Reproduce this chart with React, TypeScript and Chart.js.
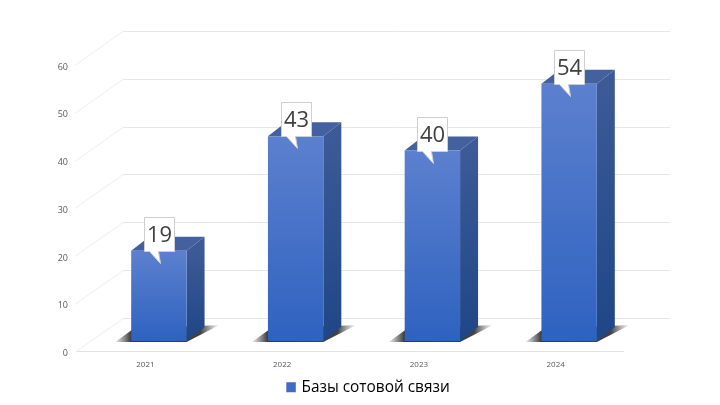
import React, { useEffect, useRef } from "react";
import { Chart, registerables } from "chart.js";

Chart.register(...registerables);

const categories = ["2021", "2022", "2023", "2024"];
const seriesName = "Базы сотовой связи";
const seriesValues = [19, 43, 40, 54];
const FONT = '"Open Sans", sans-serif';

// 3D projection offsets
const WALL_DX = 46, WALL_DY = -35;
const BAR_DX = 13.5, BAR_DY = -10;
const SIDE_DX = 18, SIDE_DY = -14;

const depthPlugin = {
  id: "depth",
  afterUpdate(chart: any) {
    chart.legend.left += 114;
  },
  beforeDatasetsDraw(chart: any) {
    const { ctx, chartArea: a, scales } = chart;
    const y = scales.y;
    ctx.save();
    ctx.lineWidth = 1;
    y.ticks.forEach((t: any) => {
      const p = Math.round(y.getPixelForValue(t.value)) + 0.5;
      const bp = Math.round(p + WALL_DY) + 0.5;
      ctx.strokeStyle = "#eeeeee";
      ctx.beginPath();
      ctx.moveTo(a.left - 2, p);
      ctx.lineTo(a.left + WALL_DX, bp);
      ctx.stroke();
      ctx.strokeStyle = "#e6e6e6";
      ctx.beginPath();
      ctx.moveTo(a.left + WALL_DX, bp);
      ctx.lineTo(a.right + WALL_DX, bp);
      ctx.stroke();
    });
    chart.getDatasetMeta(0).data.forEach((el: any) => {
      const l = el.x - el.width / 2 + BAR_DX;
      const r = el.x + el.width / 2 + BAR_DX;
      const top = el.y + BAR_DY;
      const b = el.base + BAR_DY;
      // ground shadow
      const sg = ctx.createLinearGradient(l - 16, 0, r + 33, 0);
      const w = r + 33 - (l - 16);
      sg.addColorStop(0, "rgba(70,70,70,0.1)");
      sg.addColorStop(16 / w, "rgba(45,45,45,0.95)");
      sg.addColorStop((r + 14 - (l - 16)) / w, "rgba(45,45,45,0.9)");
      sg.addColorStop(1, "rgba(90,90,90,0)");
      ctx.fillStyle = sg;
      ctx.beginPath();
      ctx.moveTo(l - 16, b + 1);
      ctx.lineTo(r, b + 1);
      ctx.lineTo(r + 33, b - 16);
      ctx.lineTo(l + 2, b - 12);
      ctx.closePath();
      ctx.fill();
      // side face
      const side = ctx.createLinearGradient(0, top, 0, b);
      side.addColorStop(0, "#3c5a96");
      side.addColorStop(1, "#1f4687");
      ctx.fillStyle = side;
      ctx.beginPath();
      ctx.moveTo(r, top);
      ctx.lineTo(r + SIDE_DX, top + SIDE_DY);
      ctx.lineTo(r + SIDE_DX, b + SIDE_DY);
      ctx.lineTo(r, b);
      ctx.closePath();
      ctx.fill();
      // top face
      ctx.fillStyle = "#43609f";
      ctx.beginPath();
      ctx.moveTo(l, top);
      ctx.lineTo(r, top);
      ctx.lineTo(r + SIDE_DX, top + SIDE_DY);
      ctx.lineTo(l + SIDE_DX, top + SIDE_DY);
      ctx.closePath();
      ctx.fill();
    });
    ctx.restore();
    ctx.save();
    ctx.translate(BAR_DX, BAR_DY);
  },
  afterDatasetsDraw(chart: any) {
    const { ctx } = chart;
    ctx.restore();
    const vals = chart.data.datasets[0].data;
    chart.getDatasetMeta(0).data.forEach((el: any, i: number) => {
      const cx = el.x + BAR_DX;
      const bottom = Math.round(el.y + BAR_DY) + 0.5;
      const bw = 30, bh = 34;
      const left = Math.round(cx - bw / 2) + 0.5;
      ctx.save();
      ctx.beginPath();
      ctx.moveTo(left, bottom - bh);
      ctx.lineTo(left + bw, bottom - bh);
      ctx.lineTo(left + bw, bottom);
      ctx.lineTo(left + 14, bottom);
      ctx.lineTo(left + 16, bottom + 12);
      ctx.lineTo(left + 5, bottom);
      ctx.lineTo(left, bottom);
      ctx.closePath();
      ctx.fillStyle = "#ffffff";
      ctx.fill();
      ctx.strokeStyle = "#cfcfcf";
      ctx.lineWidth = 1;
      ctx.stroke();
      ctx.fillStyle = "#404040";
      ctx.font = `22px ${FONT}`;
      ctx.textAlign = "center";
      ctx.textBaseline = "middle";
      ctx.fillText(String(vals[i]), left + bw / 2, bottom - bh / 2 + 1);
      ctx.restore();
    });
  },
};

export default function App() {
  const ref = useRef<HTMLCanvasElement>(null);
  useEffect(() => {
    const chart = new Chart(ref.current as HTMLCanvasElement, {
      type: "bar",
      data: {
        labels: categories,
        datasets: [
          {
            label: seriesName,
            data: seriesValues,
            clip: false,
            categoryPercentage: 1,
            barPercentage: 0.405,
            borderWidth: 0,
            backgroundColor: (c: any) => {
              const { ctx, scales } = c.chart;
              if (!scales.y || c.raw == null) return "#3e6cc6";
              const g = ctx.createLinearGradient(
                0,
                scales.y.getPixelForValue(c.raw),
                0,
                scales.y.getPixelForValue(0)
              );
              g.addColorStop(0, "#5c80ce");
              g.addColorStop(1, "#2e62c0");
              return g;
            },
          } as any,
        ],
      },
      plugins: [depthPlugin],
      options: {
        responsive: false,
        animation: false,
        devicePixelRatio: 1,
        layout: { padding: { top: 65, right: 96, left: 0, bottom: 0 } },
        plugins: {
          tooltip: { enabled: false },
          legend: {
            position: "bottom",
            labels: {
              boxWidth: 5.5,
              boxHeight: 6,
              color: "#595959",
              font: { family: FONT, size: 15.4 },
              generateLabels: () => [
                {
                  text: seriesName,
                  fillStyle: "#3e6cc6",
                  strokeStyle: "#3e6cc6",
                  lineWidth: 4,
                  datasetIndex: 0,
                },
              ],
            },
          },
        },
        scales: {
          x: {
            afterFit: (s: any) => {
              s.height = 18;
            },
            grid: { display: false, drawTicks: false },
            border: { display: false },
            ticks: {
              padding: 8,
              color: "#595959",
              font: { family: FONT, size: 8 },
            },
          },
          y: {
            min: 0,
            max: 60,
            afterFit: (s: any) => {
              s.width = 77;
            },
            border: { display: false },
            grid: {
              drawTicks: false,
              color: (c: any) => (c.tick.value === 0 ? "#e2e2e2" : "transparent"),
            },
            ticks: {
              stepSize: 10,
              padding: 9,
              labelOffset: 2,
              color: "#595959",
              font: { family: FONT, size: 9 },
            },
          },
        },
      },
    } as any);
    return () => chart.destroy();
  }, []);
  return (
    <div style={{ position: "absolute", left: 0, top: 0, width: 720, height: 405, background: "#fff" }}>
      <canvas ref={ref} width={720} height={405} style={{ display: "block" }} />
    </div>
  );
}
